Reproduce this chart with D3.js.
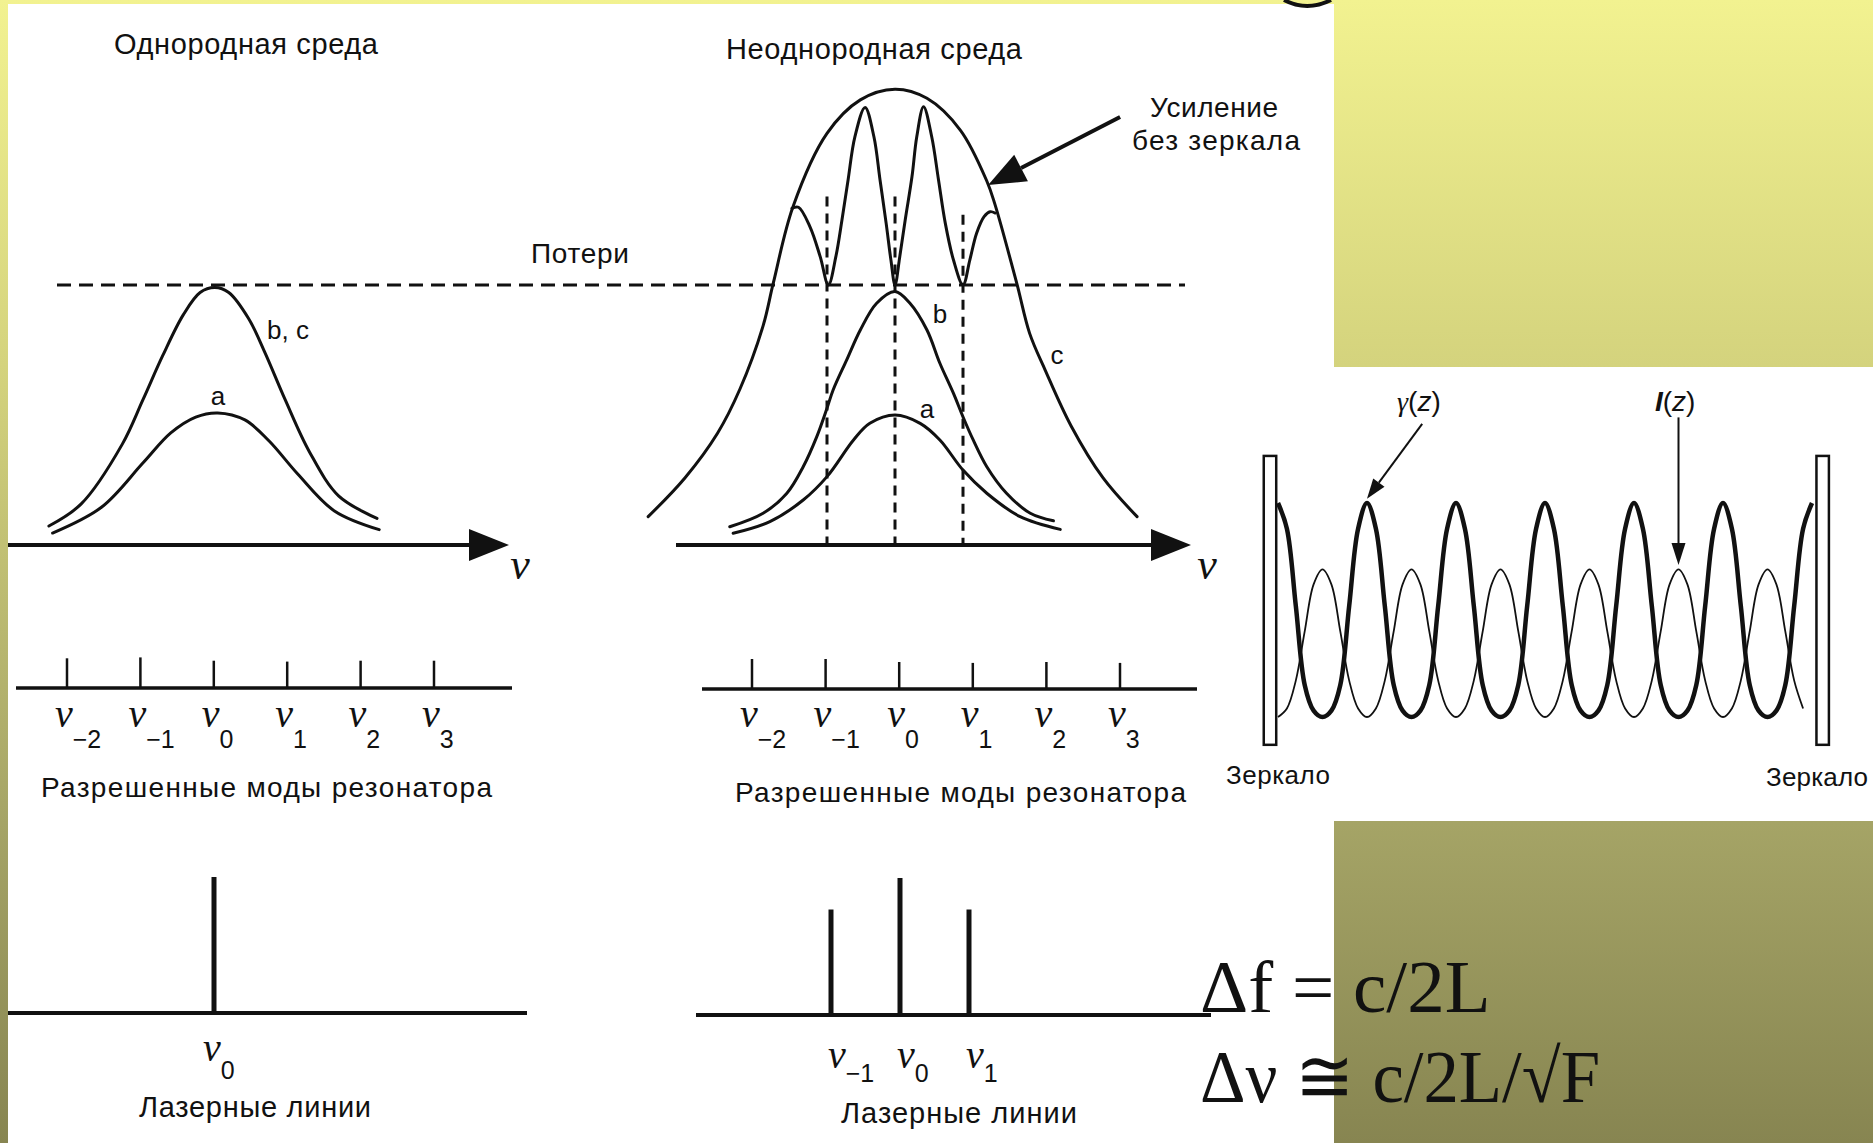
<!DOCTYPE html>
<html>
<head>
<meta charset="utf-8">
<title>Моды лазера: однородная и неоднородная среда</title>
<script src="https://cdnjs.cloudflare.com/ajax/libs/d3/7.8.5/d3.min.js"></script>
<style>
	body { margin: 0; background: #fff; }
	svg { display: block; }
	text { font-family: "Liberation Sans", Arial, sans-serif; fill: #111; }
	.serif { font-family: "Liberation Serif", "DejaVu Serif", serif; }
</style>
</head>
<body>
<svg id="chart" width="1873" height="1143"></svg>
<script>

	// ---- gain curves (u = mode index, g = gain, losses = 1) ----
	var homoGainBC = [[-2.26,0.073],[-1.82,0.158],[-1.26,0.388],[-0.98,0.558],[-0.71,0.728],[-0.43,0.885],[-0.20,0.971],[0,0.99],
		[0.19,0.971],[0.46,0.871],[0.68,0.742],[0.96,0.558],[1.29,0.358],[1.69,0.188],[2.21,0.102]];
	var homoGainA = [[-2.21,0.046],[-1.54,0.146],[-0.98,0.315],[-0.60,0.431],[-0.26,0.492],[0.04,0.508],[0.41,0.481],
		[0.74,0.40],[1.13,0.273],[1.63,0.131],[2.24,0.059]];

	var inhomoGainC = [[-3.63,0.109],[-3.09,0.258],[-2.61,0.43],[-2.28,0.60],[-1.94,0.843],[-1.79,1.007],[-1.50,1.301],
		[-1.00,1.583],[-0.51,1.712],[0,1.753],[0.47,1.718],[0.96,1.596],[1.35,1.40],[1.47,1.31],[1.79,1.007],
		[1.98,0.814],[2.21,0.672],[2.59,0.458],[3.06,0.258],[3.56,0.109]];
	var inhomoGainB = [[-2.43,0.070],[-1.94,0.122],[-1.59,0.199],[-1.35,0.301],[-1.15,0.417],[-1.00,0.526],[-0.91,0.596],
		[-0.71,0.712],[-0.51,0.827],[-0.27,0.930],[0,0.975],[0.22,0.930],[0.47,0.827],[0.66,0.699],[0.86,0.583],
		[1.00,0.493],[1.15,0.404],[1.35,0.301],[1.64,0.199],[1.99,0.122],[2.33,0.093]];
	var inhomoGainA = [[-2.38,0.045],[-1.84,0.090],[-1.35,0.173],[-1.00,0.263],[-0.61,0.404],[-0.37,0.468],[0,0.50],
		[0.37,0.468],[0.66,0.404],[1.00,0.288],[1.35,0.199],[1.84,0.109],[2.43,0.060]];
	// gain with mirrors: holes burnt down to the losses at the modes
	var inhomoGainHoles = [[-1.515,1.295],[-1.42,1.299],[-1.25,1.224],[-1.10,1.109],[-0.98,1.0],[-0.87,1.109],[-0.78,1.25],
		[-0.69,1.404],[-0.59,1.570],[-0.44,1.683],[-0.31,1.570],[-0.22,1.404],[-0.13,1.237],[-0.06,1.096],[0,1.0],
		[0.07,1.109],[0.15,1.25],[0.25,1.417],[0.32,1.570],[0.42,1.686],[0.54,1.570],[0.64,1.404],[0.74,1.237],
		[0.86,1.096],[1.00,1.0],[1.10,1.096],[1.20,1.199],[1.31,1.263],[1.40,1.282],[1.47,1.277]];
	var holeModes = [-1, 0, 1];
	var holeMarkerTop = [1.34, 1.34, 1.27];
	var lossLevel = 1;

	// ---- allowed cavity modes ----
	var modeIndex = [-2, -1, 0, 1, 2, 3];
	var modeLabels = ["\u22122", "\u22121", "0", "1", "2", "3"];
	var modeTickHomo = [0.99, 1.02, 0.91, 0.88, 0.91, 0.91];
	var modeTickInhomo = [1.0, 1.0, 0.9, 0.87, 0.9, 0.87];

	// ---- laser lines ----
	var laserHomoIdx = [0];
	var laserHomoHeight = [1.0];
	var laserHomoLabels = ["0"];
	var laserInhomoIdx = [-1, 0, 1];
	var laserInhomoHeight = [0.77, 1.0, 0.77];
	var laserInhomoLabels = ["\u22121", "0", "1"];

	// ---- standing wave in the cavity: z in half-wavelengths ----
	var cavityZ = [0,0.1,0.2,0.3,0.4,0.5,0.6,0.7,0.8,0.9,1,1.1,1.2,1.3,1.4,1.5,1.6,1.7,1.8,1.9,2,2.1,2.2,2.3,2.4,2.5,2.6,2.7,2.8,2.9,
		3,3.1,3.2,3.3,3.4,3.5,3.6,3.7,3.8,3.9,4,4.1,4.2,4.3,4.4,4.5,4.6,4.7,4.8,4.9,5,5.1,5.2,5.3,5.4,5.5,5.6,5.7,5.8,5.9,6];
	var gammaZ = [1,0.88,0.52,0.15,0.03,0,0.03,0.15,0.52,0.88, 1,0.88,0.52,0.15,0.03,0,0.03,0.15,0.52,0.88,
		1,0.88,0.52,0.15,0.03,0,0.03,0.15,0.52,0.88, 1,0.88,0.52,0.15,0.03,0,0.03,0.15,0.52,0.88,
		1,0.88,0.52,0.15,0.03,0,0.03,0.15,0.52,0.88, 1,0.88,0.52,0.15,0.03,0,0.03,0.15,0.52,0.88, 1];
	var intensityZ = [0,0.04,0.17,0.40,0.62,0.69,0.62,0.40,0.17,0.04, 0,0.04,0.17,0.40,0.62,0.69,0.62,0.40,0.17,0.04,
		0,0.04,0.17,0.40,0.62,0.69,0.62,0.40,0.17,0.04, 0,0.04,0.17,0.40,0.62,0.69,0.62,0.40,0.17,0.04,
		0,0.04,0.17,0.40,0.62,0.69,0.62,0.40,0.17,0.04, 0,0.04,0.17,0.40,0.62,0.69,0.62,0.40,0.17,0.04];
	var mirrorsZ = [[-0.16, -0.02], [6.05, 6.19]];
	var mirrorSpan = [-0.13, 1.22];

	var ink = "#111";
	var svg = d3.select("#chart");

	// background: slide gradient with white picture areas
	var grad = svg.append("defs").append("linearGradient")
		.attr("id", "bg").attr("x1", 0).attr("y1", 0).attr("x2", 0).attr("y2", 1);
	[[0, "#f2f290"], [0.32, "#d4d37d"], [0.72, "#a5a466"], [1, "#878551"]].forEach(function(s) {
		grad.append("stop").attr("offset", s[0]).attr("stop-color", s[1]);
	});
	svg.append("rect").attr("width", 1873).attr("height", 1143).attr("fill", "url(#bg)");
	svg.append("rect").attr("x", 8).attr("y", 4).attr("width", 1326).attr("height", 1139).attr("fill", "#fff");
	svg.append("rect").attr("x", 1334).attr("y", 367).attr("width", 539).attr("height", 454).attr("fill", "#fff");
	svg.append("path").attr("d", "M1284,0 Q1307,12 1331,0").attr("fill", "none").attr("stroke", ink).attr("stroke-width", 4);

	function label(x, y, str, size, anchor, width) {
		var t = svg.append("text").attr("x", x).attr("y", y).attr("font-size", size)
			.attr("text-anchor", anchor || "start").text(str);
		if (width) t.attr("textLength", width).attr("lengthAdjust", "spacing");
		return t;
	}

	// italic nu with a subscript, as one text
	function nuLabel(x, y, sub, dx, dy) {
		var t = svg.append("text").attr("x", x).attr("y", y);
		t.append("tspan").attr("class", "serif").attr("font-style", "italic").attr("font-size", 40).text("ν");
		t.append("tspan").attr("font-size", 25).attr("dx", dx).attr("dy", dy).text(sub);
	}

	function arrow(x1, y1, x2, y2, len, half, w) {
		var dx = x2 - x1, dy = y2 - y1, L = Math.hypot(dx, dy), ux = dx / L, uy = dy / L;
		var bx = x2 - ux * len, by = y2 - uy * len;
		svg.append("line").attr("x1", x1).attr("y1", y1).attr("x2", bx).attr("y2", by)
			.attr("stroke", ink).attr("stroke-width", w);
		svg.append("path")
			.attr("d", "M" + x2 + "," + y2 + "L" + (bx - uy * half) + "," + (by + ux * half) +
				"L" + (bx + uy * half) + "," + (by - ux * half) + "Z")
			.attr("fill", ink);
	}

	// ---- scales ----
	var yGain = d3.scaleLinear().domain([0, 1]).range([545, 285]);
	var xHomo = d3.scaleLinear().domain([-2, 3]).range([68, 435]);
	var xInhomo = d3.scaleLinear().domain([-1, 1]).range([827, 963]);

	function curve(xs, data, w) {
		var line = d3.line().x(function(d) { return xs(d[0]); }).y(function(d) { return yGain(d[1]); })
			.curve(d3.curveCatmullRom.alpha(0.5));
		svg.append("path").datum(data).attr("d", line)
			.attr("fill", "none").attr("stroke", ink).attr("stroke-width", w || 3)
			.attr("stroke-linejoin", "round").attr("stroke-linecap", "round");
	}

	// ---- gain panels ----
	label(246, 54, "Однородная среда", 29, "middle", 264);
	label(874, 59, "Неоднородная среда", 29, "middle", 296);
	label(580, 263, "Потери", 28, "middle", 98);

	// losses (dashed)
	svg.append("line").attr("x1", 57).attr("x2", 1185).attr("y1", yGain(lossLevel)).attr("y2", yGain(lossLevel))
		.attr("stroke", ink).attr("stroke-width", 3).attr("stroke-dasharray", "14,8");

	// frequency axes with arrows
	[[8, 509, 520], [676, 1191, 1207]].forEach(function(a) {
		arrow(a[0], yGain(0), a[1], yGain(0), 40, 16, 4);
		svg.append("text").attr("class", "serif").attr("x", a[2]).attr("y", yGain(0) + 34)
			.attr("font-size", 44).attr("font-style", "italic").attr("text-anchor", "middle").text("ν");
	});

	curve(xHomo, homoGainBC);
	curve(xHomo, homoGainA);
	label(267, 339, "b, c", 26);
	label(218, 405, "a", 26, "middle");

	// mode markers (dashed verticals)
	holeModes.forEach(function(u, i) {
		svg.append("line").attr("x1", xInhomo(u)).attr("x2", xInhomo(u))
			.attr("y1", yGain(holeMarkerTop[i])).attr("y2", yGain(0))
			.attr("stroke", ink).attr("stroke-width", 3).attr("stroke-dasharray", "10,7");
	});
	curve(xInhomo, inhomoGainC);
	curve(xInhomo, inhomoGainB);
	curve(xInhomo, inhomoGainA);
	curve(xInhomo, inhomoGainHoles);
	label(940, 323, "b", 26, "middle");
	label(927, 418, "a", 26, "middle");
	label(1057, 364, "c", 26, "middle");

	arrow(xInhomo(3.31), yGain(1.646), xInhomo(1.37), yGain(1.385), 37, 15, 4);
	label(1214, 117, "Усиление", 28, "middle", 128);
	label(1216, 150, "без зеркала", 28, "middle", 168);

	// ---- allowed modes ----
	function modes(xs, axisY, x0, x1, heights) {
		var tick = d3.scaleLinear().domain([0, 1]).range([0, 30]);
		svg.append("line").attr("x1", x0).attr("x2", x1).attr("y1", axisY).attr("y2", axisY)
			.attr("stroke", ink).attr("stroke-width", 3.5);
		modeIndex.forEach(function(u, i) {
			var x = xs(u);
			svg.append("line").attr("x1", x).attr("x2", x).attr("y1", axisY).attr("y2", axisY - tick(heights[i]))
				.attr("stroke", ink).attr("stroke-width", 2.5);
			nuLabel(x - 12, 727, modeLabels[i], 0, 21);
		});
	}
	modes(d3.scaleLinear().domain([-2, 3]).range([67, 434]), 688, 16, 512, modeTickHomo);
	modes(d3.scaleLinear().domain([-2, 3]).range([752, 1120]), 689, 702, 1197, modeTickInhomo);
	label(41, 797, "Разрешенные моды резонатора", 28, "start", 451);
	label(735, 802, "Разрешенные моды резонатора", 28, "start", 451);

	// ---- laser lines ----
	function lasers(xs, ys, idx, h, labs, x0, x1, nuX, nuY, subDx, subDy) {
		svg.append("line").attr("x1", x0).attr("x2", x1).attr("y1", ys(0)).attr("y2", ys(0))
			.attr("stroke", ink).attr("stroke-width", 4);
		idx.forEach(function(u, i) {
			var x = xs(u);
			svg.append("line").attr("x1", x).attr("x2", x).attr("y1", ys(0)).attr("y2", ys(h[i]))
				.attr("stroke", ink).attr("stroke-width", 5);
			nuLabel(x + nuX, nuY, labs[i], subDx, subDy);
		});
	}
	lasers(d3.scaleLinear().domain([-1, 1]).range([145, 283]), d3.scaleLinear().domain([0, 1]).range([1013, 877]),
		laserHomoIdx, laserHomoHeight, laserHomoLabels, 8, 527, -11, 1061, 0, 18);
	lasers(d3.scaleLinear().domain([-1, 1]).range([831, 969]), d3.scaleLinear().domain([0, 1]).range([1015, 878]),
		laserInhomoIdx, laserInhomoHeight, laserInhomoLabels, 696, 1211, -3, 1068, 0, 14);
	label(255, 1117, "Лазерные линии", 29, "middle", 232);
	label(959, 1123, "Лазерные линии", 29, "middle", 236);

	// ---- cavity with standing wave ----
	var xCav = d3.scaleLinear().domain([0, 6]).range([1278, 1812]);
	var yCav = d3.scaleLinear().domain([0, 1]).range([717, 503]);
	var cavLine = d3.line().x(function(d, i) { return xCav(cavityZ[i]); }).y(function(d) { return yCav(d); })
		.curve(d3.curveCatmullRom.alpha(0.5));

	mirrorsZ.forEach(function(m) {
		svg.append("rect").attr("x", xCav(m[0])).attr("width", xCav(m[1]) - xCav(m[0]))
			.attr("y", yCav(mirrorSpan[1])).attr("height", yCav(mirrorSpan[0]) - yCav(mirrorSpan[1]))
			.attr("fill", "#fff").attr("stroke", ink).attr("stroke-width", 2.5);
	});
	svg.append("path").datum(intensityZ).attr("d", cavLine)
		.attr("fill", "none").attr("stroke", ink).attr("stroke-width", 1.8);
	svg.append("path").datum(gammaZ).attr("d", cavLine)
		.attr("fill", "none").attr("stroke", ink).attr("stroke-width", 4.5);

	arrow(xCav(1.62), yCav(1.37), xCav(1.0), yCav(1.02), 20, 7, 2);
	arrow(xCav(4.5), yCav(1.40), xCav(4.5), yCav(0.71), 22, 7, 2);

	var g1 = svg.append("text").attr("x", 1397).attr("y", 411).attr("font-size", 28);
	g1.append("tspan").attr("class", "serif").attr("font-style", "italic").text("γ");
	g1.append("tspan").text("(");
	g1.append("tspan").attr("font-style", "italic").text("z");
	g1.append("tspan").text(")");
	var g2 = svg.append("text").attr("x", 1655).attr("y", 411).attr("font-size", 28);
	g2.append("tspan").attr("font-style", "italic").attr("font-weight", "bold").text("I");
	g2.append("tspan").text("(");
	g2.append("tspan").attr("font-style", "italic").text("z");
	g2.append("tspan").text(")");

	label(1226, 784, "Зеркало", 26, "start", 104);
	label(1766, 786, "Зеркало", 26, "start", 102);

	// ---- formulas ----
	label(1200, 1012, "Δf = c/2L", 75).attr("class", "serif");
	label(1200, 1102, "Δν ≅ c/2L/√F", 75, "start", 400).attr("class", "serif").attr("lengthAdjust", "spacingAndGlyphs");

</script>
</body>
</html>
